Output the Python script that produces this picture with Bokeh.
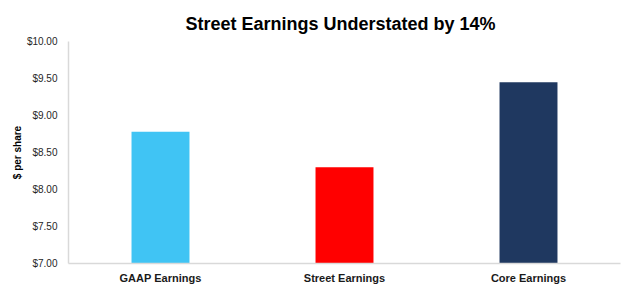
from bokeh.plotting import figure
from bokeh.models import ColumnDataSource, NumeralTickFormatter, FixedTicker, Range1d
from bokeh.embed import file_html
from bokeh.resources import INLINE

categories = ["GAAP Earnings", "Street Earnings", "Core Earnings"]
values = [8.78, 8.30, 9.45]
colors = ["#40C4F4", "#FF0000", "#1F3860"]
y_ticks = [7.0, 7.5, 8.0, 8.5, 9.0, 9.5, 10.0]
title_text = "Street Earnings Understated by 14%"
y_label = "$ per share"

source = ColumnDataSource(dict(cat=categories, val=values, color=colors))

p = figure(x_range=categories, width=630, height=288, output_backend="svg",
           toolbar_location=None, min_border_left=68, min_border_right=10,
           min_border_top=41, min_border_bottom=25)
p.y_range = Range1d(7.0, 10.0)

p.vbar(x="cat", top="val", bottom=7.0, width=0.315, color="color", line_color=None, source=source)

p.title.text = title_text
p.title.align = "left"
p.title.text_font = "Liberation Sans"
p.title.text_font_size = "18px"
p.title.text_font_style = "bold"
p.title.text_color = "#000000"
p.title.offset = 117
p.title.standoff = 16

p.outline_line_color = None
p.xgrid.grid_line_color = None
p.ygrid.grid_line_color = None
p.background_fill_color = "white"
p.border_fill_color = "white"

ya = p.yaxis[0]
ya.ticker = FixedTicker(ticks=y_ticks)
ya.formatter = NumeralTickFormatter(format="$0.00")
ya.major_tick_line_color = None
ya.minor_tick_line_color = None
ya.major_tick_out = 0
ya.major_tick_in = 0
ya.axis_line_color = "#D9D9D9"
ya.axis_line_width = 1.5
ya.major_label_standoff = 11
ya.major_label_text_font = "Liberation Sans"
ya.major_label_text_font_size = "10px"
ya.major_label_text_color = "#262626"
ya.axis_label = y_label
ya.axis_label_standoff = 1
ya.axis_label_text_font = "Liberation Sans"
ya.axis_label_text_font_size = "10px"
ya.axis_label_text_font_style = "bold"
ya.axis_label_text_color = "#000000"

xa = p.xaxis[0]
xa.major_tick_line_color = None
xa.minor_tick_line_color = None
xa.major_tick_out = 0
xa.major_tick_in = 0
xa.axis_line_color = "#D9D9D9"
xa.axis_line_width = 1.5
xa.major_label_standoff = 8
xa.major_label_text_font = "Liberation Sans"
xa.major_label_text_font_size = "11px"
xa.major_label_text_font_style = "bold"
xa.major_label_text_color = "#1A1A1A"

open("out.html", "w").write(file_html(p, INLINE))
